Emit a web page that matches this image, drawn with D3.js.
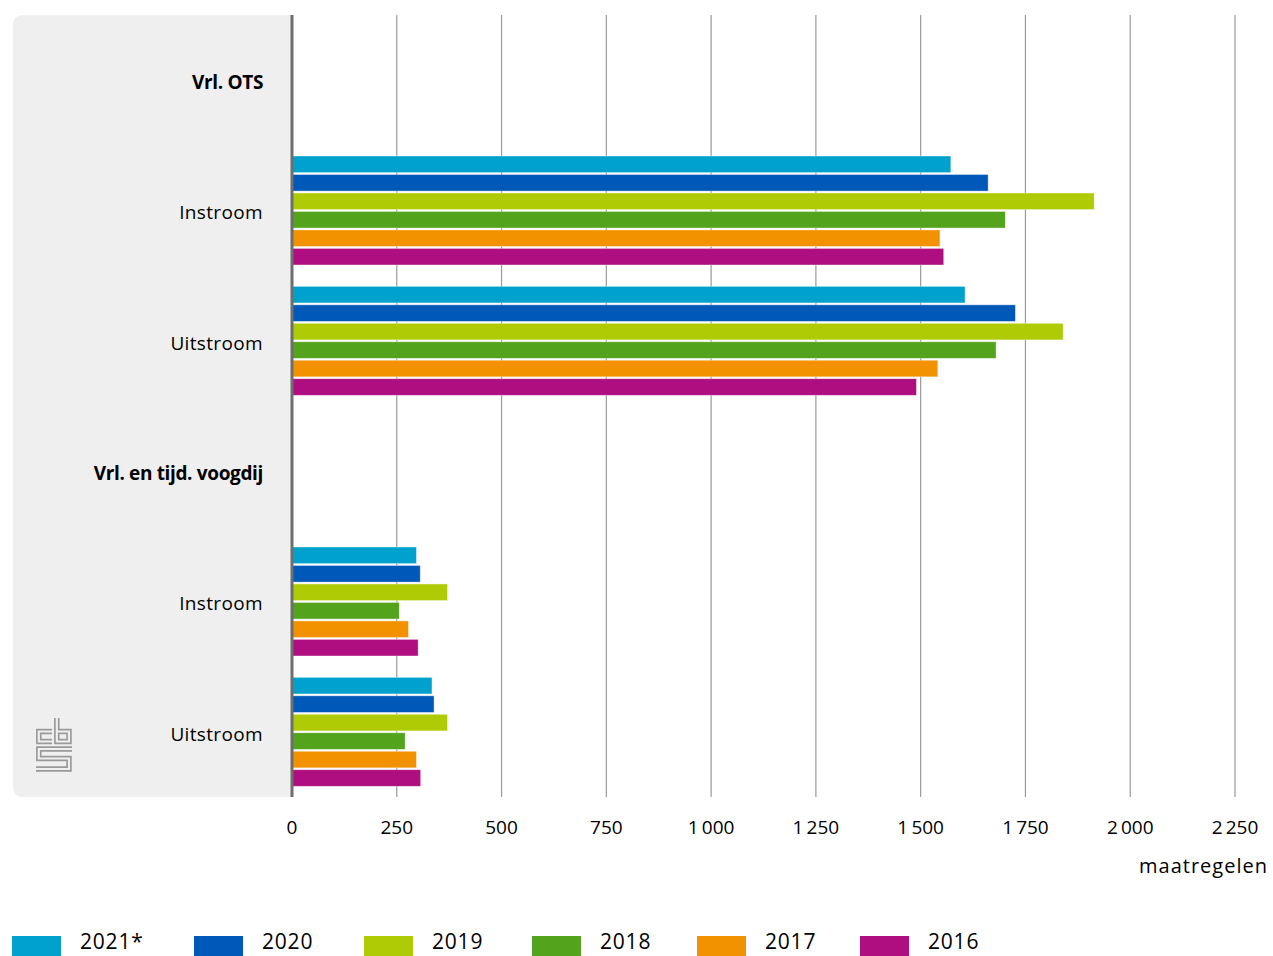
<!DOCTYPE html>
<html>
<head>
<meta charset="utf-8">
<script src="https://cdn.jsdelivr.net/npm/d3@7"></script>
<style>
  body { margin: 0; background: #fff; }
  svg { display: block; font-family: "Open Sans", sans-serif; }
</style>
</head>
<body>
<div id="chart"></div>
<script>
// rows of the chart, header rows have no values
const rows = ["Vrl. OTS", "Instroom", "Uitstroom", "Vrl. en tijd. voogdij", "Instroom", "Uitstroom"];
const headers = [true, false, false, true, false, false];
const years = ["2021*", "2020", "2019", "2018", "2017", "2016"];
const colors = ["#00a1cd", "#0058b8", "#afcb05", "#53a31d", "#f39200", "#af0e80"];

const v2021 = [null, 1572, 1606, null, 297, 334];
const v2020 = [null, 1661, 1726, null, 306, 339];
const v2019 = [null, 1914, 1840, null, 371, 371];
const v2018 = [null, 1702, 1680, null, 256, 270];
const v2017 = [null, 1546, 1541, null, 278, 297];
const v2016 = [null, 1555, 1490, null, 301, 307];
const series = [v2021, v2020, v2019, v2018, v2017, v2016];

const ticks = [0, 250, 500, 750, 1000, 1250, 1500, 1750, 2000, 2250];

const width = 1273, height = 956;
const plotTop = 15, plotBottom = 797, plotLeft = 292, plotRight = 1235;

const svg = d3.select("#chart")
              .append("svg")
              .attr("width", width)
              .attr("height", height);

const xScale = d3.scaleLinear()
                 .domain([0, 2250])
                 .range([plotLeft, plotRight]);

const yScale = d3.scaleBand()
                 .domain(d3.range(rows.length))
                 .range([plotTop, plotBottom]);

const inner = d3.scaleBand()
                .domain(d3.range(years.length))
                .range([yScale.bandwidth() / 2 - 54.5, yScale.bandwidth() / 2 + 54.5])
                .paddingInner(0.1);

// grey label panel, rounded on the left side
const r = 10;
svg.append("path")
   .attr("d", `M${plotLeft},${plotTop} H${13 + r} Q13,${plotTop} 13,${plotTop + r} V${plotBottom - r} Q13,${plotBottom} ${13 + r},${plotBottom} H${plotLeft} Z`)
   .attr("fill", "#efefef");

// gridlines
svg.append("g")
   .selectAll("line")
   .data(ticks.slice(1))
   .join("line")
   .attr("x1", d => xScale(d))
   .attr("x2", d => xScale(d))
   .attr("y1", plotTop)
   .attr("y2", plotBottom)
   .attr("stroke", "#999")
   .attr("stroke-width", 1.2);

// bars
const rowG = svg.selectAll("g.row")
                .data(rows.map((d, i) => ({ name: d, i: i })))
                .join("g")
                .attr("class", "row")
                .attr("transform", d => `translate(0, ${yScale(d.i)})`);

rowG.selectAll("rect")
    .data(d => series.map((s, k) => ({ value: s[d.i], k: k })).filter(e => e.value !== null))
    .join("rect")
    .attr("x", xScale(0))
    .attr("y", d => inner(d.k))
    .attr("width", d => xScale(d.value) - xScale(0))
    .attr("height", inner.bandwidth())
    .attr("fill", d => colors[d.k])
    .attr("stroke", "#fff")
    .attr("stroke-opacity", 0.5)
    .attr("stroke-width", 0.8);

rowG.append("text")
    .text(d => d.name)
    .attr("x", 263)
    .attr("y", yScale.bandwidth() / 2 + 9)
    .attr("text-anchor", "end")
    .style("font-size", "19px")
    .style("font-weight", d => headers[d.i] ? "bold" : "normal")
    .style("letter-spacing", d => headers[d.i] ? "-0.35px" : "0.35px")
    .attr("fill", "#000");

// axis line at zero
svg.append("line")
   .attr("x1", xScale(0))
   .attr("x2", xScale(0))
   .attr("y1", plotTop)
   .attr("y2", plotBottom)
   .attr("stroke", "#6e6e6e")
   .attr("stroke-width", 3);

// tick labels
const fmt = d3.formatLocale({ decimal: ",", thousands: "\u2009", grouping: [3], currency: ["", ""] }).format(",");
svg.append("g")
   .selectAll("text")
   .data(ticks)
   .join("text")
   .text(d => fmt(d))
   .attr("x", d => xScale(d))
   .attr("y", 834)
   .attr("text-anchor", "middle")
   .style("font-size", "19px")
   .attr("fill", "#000");

svg.append("text")
   .text("maatregelen")
   .attr("x", 1268)
   .attr("y", 873)
   .attr("text-anchor", "end")
   .style("font-size", "20px")
   .style("letter-spacing", "1px")
   .attr("fill", "#000");

// legend
const legendX = [12, 194, 364, 532, 697, 860];
const legend = svg.append("g");
years.forEach((y, k) => {
    legend.append("rect")
          .attr("x", legendX[k])
          .attr("y", 936)
          .attr("width", 49)
          .attr("height", 20)
          .attr("fill", colors[k]);
    legend.append("text")
          .text(y)
          .attr("x", legendX[k] + 68)
          .attr("y", 949)
          .style("font-size", "21px")
          .style("letter-spacing", "0.8px")
          .attr("fill", "#000");
});

// cbs logo, outlined strokes
const logo = svg.append("g").attr("fill", "none").attr("stroke-linecap", "butt").attr("stroke-linejoin", "miter");
const logoPaths = [
    "M52,731.5 H38.8 V741.5 H52",
    "M56.8,718 V741.5 H69 V731.5 H56.8",
    "M72,749 H38.8 V758.5 H69 V769 H36"
];
logoPaths.forEach(p => {
    logo.append("path").attr("d", p).attr("stroke", "#9a9a9a").attr("stroke-width", 5.5);
});
logoPaths.forEach(p => {
    logo.append("path").attr("d", p).attr("stroke", "#efefef").attr("stroke-width", 2.2);
});
</script>
</body>
</html>
